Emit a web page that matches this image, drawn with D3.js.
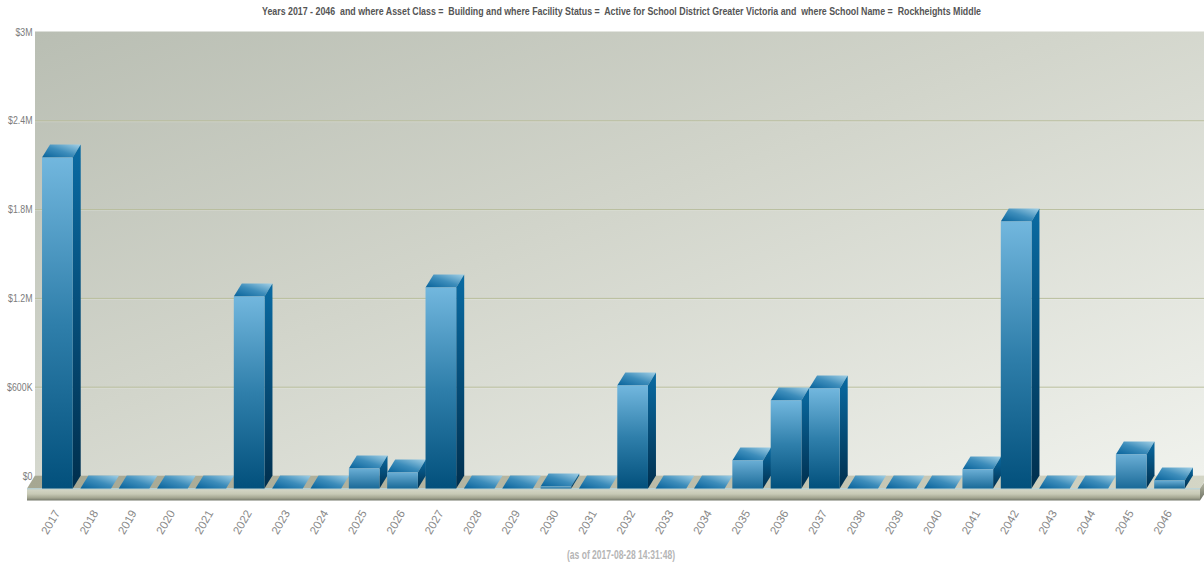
<!DOCTYPE html>
<html><head><meta charset="utf-8">
<script src="https://cdn.jsdelivr.net/npm/d3@7"></script>
<style>html,body{margin:0;padding:0;background:#fff;overflow:hidden}svg{display:block}
text{font-family:"Liberation Sans",sans-serif}</style></head>
<body><svg id="c" width="1204" height="564"></svg>
<script>
const years=[2017,2018,2019,2020,2021,2022,2023,2024,2025,2026,2027,2028,2029,2030,2031,2032,2033,2034,2035,2036,2037,2038,2039,2040,2041,2042,2043,2044,2045,2046];
const amounts=[2236000,0,0,0,0,1297000,0,0,135000,108000,1358000,0,0,14000,0,696000,0,0,189000,595000,676000,0,0,0,128000,1804000,0,0,230000,54000];
const tickValues=[0,600000,1200000,1800000,2400000,3000000];
const tickLabels=["$0","$600K","$1.2M","$1.8M","$2.4M","$3M"];
const titleText="Years 2017 - 2046  and where Asset Class =  Building and where Facility Status =  Active for School District Greater Victoria and  where School Name =  Rockheights Middle";
const stampText="(as of 2017-08-28 14:31:48)";

const svg=d3.select("#c");
const DX=8,DY=13;
const x=d3.scaleBand().domain(years).range([38.2,1188.7]).paddingInner(0.2).paddingOuter(0.1);
const y=d3.scaleLinear().domain([0,3000000]).range([488.5,44.5]);
const defs=svg.append("defs");
function grad(id,a,stops){const g=defs.append("linearGradient").attr("id",id).attr("x1",a[0]).attr("y1",a[1]).attr("x2",a[2]).attr("y2",a[3]);
 stops.forEach(s=>g.append("stop").attr("offset",s[0]).attr("stop-color",s[1]));}
grad("wall",[0,0,1,1],[[0,"#b9beb3"],[.45,"#d2d5cb"],[1,"#f0f2ed"]]);
grad("front",[0,0,0,1],[[0,"#72b7de"],[.5,"#2f7fab"],[1,"#02507c"]]);
grad("frontShort",[0,0,0,1],[[0,"#6aaed5"],[1,"#1a6a98"]]);
grad("side",[0,0,0,1],[[0,"#0a6ba3"],[1,"#002f4e"]]);
grad("top",[0,1,1,0],[[0,"#07629a"],[.5,"#3d8dbb"],[1,"#a2d0e6"]]);
grad("floorFront",[0,0,0,1],[[0,"#d6d8c8"],[.45,"#c8cab6"],[.78,"#a4a691"],[1,"#74786a"]]);
grad("floorTop",[0,0,1,0],[[0,"#a6a792"],[.5,"#b9baa6"],[1,"#d4d6c6"]]);
grad("floorSide",[0,0,0,1],[[0,"#b4b6a2"],[1,"#6f7365"]]);

const wx0=x.range()[0]-3.2, wx1=1204, wTop=y(3000000)-DY, wBot=y(0)-DY;
svg.append("rect").attr("x",wx0).attr("y",wTop).attr("width",wx1-wx0).attr("height",wBot-wTop).attr("fill","url(#wall)");

const g=svg.append("g").attr("class","grid").selectAll("g").data(tickValues.slice(1,5)).join("g");
g.append("line").attr("x1",wx0).attr("x2",wx1).attr("y1",d=>y(d)-DY+.5).attr("y2",d=>y(d)-DY+.5).attr("stroke","#b8bd9c");
g.append("line").attr("x1",wx0).attr("x2",wx1).attr("y1",d=>y(d)-DY+1.5).attr("y2",d=>y(d)-DY+1.5).attr("stroke","#fff").attr("stroke-opacity",.2);

svg.append("path").attr("d",d3.line()([[wx0-DX,y(0)],[wx1-4,y(0)],[wx1+4,wBot],[wx0,wBot]])+"Z").attr("fill","url(#floorTop)");
svg.append("rect").attr("x",wx0-DX).attr("y",y(0)).attr("width",wx1-4-wx0+DX).attr("height",12).attr("fill","url(#floorFront)");
svg.append("path").attr("d",d3.line()([[wx1-4,y(0)],[wx1,y(0)-6],[wx1,y(0)+6],[wx1-4,y(0)+12]])+"Z").attr("fill","url(#floorSide)");
svg.append("line").attr("x1",wx0-DX).attr("x2",wx1-4).attr("y1",y(0)+.3).attr("y2",y(0)+.3).attr("stroke","#8fc3d8").attr("stroke-opacity",.6);

const rows=years.map((yr,i)=>({yr,v:amounts[i]}));
const bars=svg.append("g").selectAll("g").data(rows).join("g");
const w=x.bandwidth();
bars.append("path").attr("fill","url(#top)").attr("d",d=>{const X=x(d.yr),T=y(d.v);return d3.line()([[X,T],[X+w,T],[X+w+DX,T-DY],[X+DX,T-DY]])+"Z";});
bars.filter(d=>d.v>0).append("path").attr("fill","url(#side)").attr("d",d=>{const X=x(d.yr)+w,T=y(d.v),B=y(0);return d3.line()([[X,T],[X+DX,T-DY],[X+DX,B-DY],[X,B]])+"Z";});
bars.filter(d=>d.v>0).append("rect").attr("x",d=>x(d.yr)).attr("y",d=>y(d.v)).attr("width",w).attr("height",d=>y(0)-y(d.v)).attr("fill",d=>d.v<400000?"url(#frontShort)":"url(#front)");

svg.append("g").selectAll("text").data(tickValues).join("text").attr("transform",d=>`translate(32.5,${y(d)-DY+4}) scale(.8,1)`).attr("text-anchor","end").attr("font-size",11).attr("fill","#7c7c7c").text((d,i)=>tickLabels[i]);

svg.append("g").selectAll("text").data(years).join("text")
 .attr("transform",d=>`translate(${x(d)+w/2-0.5},${511}) rotate(-60)`).attr("text-anchor","end").attr("dy","0.35em")
 .attr("font-size",11.5).attr("fill","#888").text(d=>d);

svg.append("text").attr("x",262).attr("y",15).attr("font-size",11.5).attr("font-weight","bold").attr("fill","#555").attr("textLength",719).attr("lengthAdjust","spacingAndGlyphs").style("white-space","pre").text(titleText);
svg.append("text").attr("x",567).attr("y",559).attr("font-size",12).attr("font-weight","bold").attr("fill","#b5b5b5").attr("textLength",108).attr("lengthAdjust","spacingAndGlyphs").text(stampText);
</script></body></html>
